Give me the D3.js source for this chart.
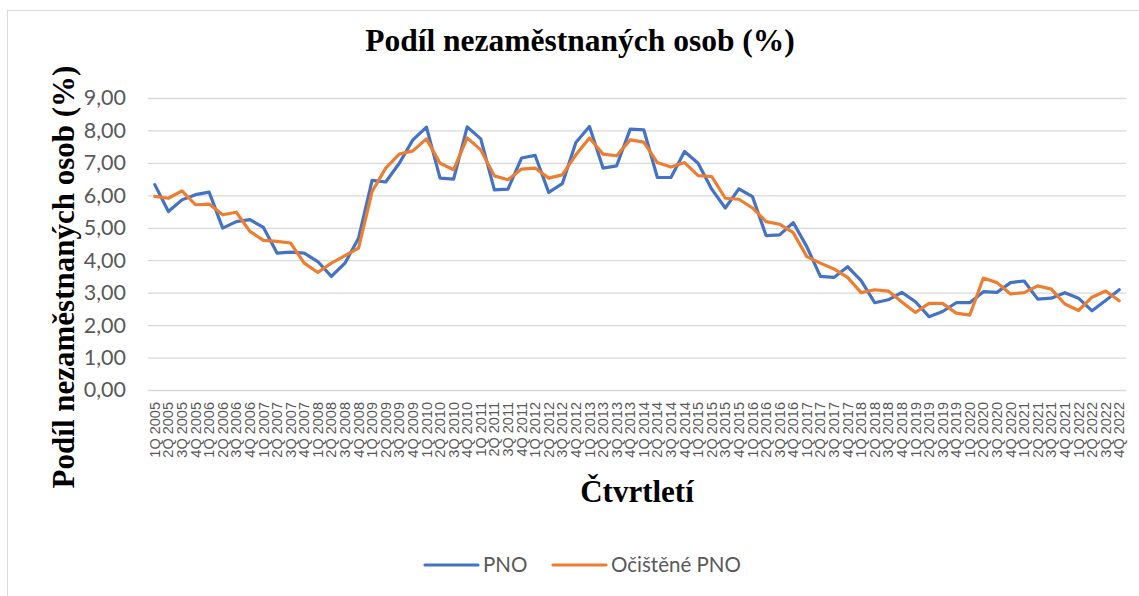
<!DOCTYPE html>
<html>
<head>
<meta charset="utf-8">
<script src="https://cdn.jsdelivr.net/npm/d3@7"></script>
<style>
  body { margin: 0; background: #fff; }
</style>
</head>
<body>
<div id="my_dataviz"></div>
<script>

// quarters 1Q 2005 .. 4Q 2022
var years = [2005, 2006, 2007, 2008, 2009, 2010, 2011, 2012, 2013, 2014, 2015, 2016, 2017, 2018, 2019, 2020, 2021, 2022]
var quarterNames = ["1Q", "2Q", "3Q", "4Q"]
var quarters = []
years.forEach(function(y) { quarterNames.forEach(function(q) { quarters.push(q + " " + y) }) })

var pno = [6.33, 5.50, 5.86, 6.02, 6.10, 4.99, 5.19, 5.25, 5.01, 4.22, 4.25, 4.22,
  3.96, 3.50, 3.91, 4.68, 6.46, 6.41, 6.99, 7.71, 8.10, 6.53, 6.50, 8.11,
  7.74, 6.17, 6.19, 7.15, 7.23, 6.09, 6.36, 7.63, 8.12, 6.84, 6.91, 8.04,
  8.02, 6.55, 6.55, 7.35, 6.99, 6.19, 5.61, 6.20, 5.96, 4.76, 4.78, 5.16,
  4.42, 3.50, 3.47, 3.80, 3.37, 2.69, 2.78, 3.01, 2.72, 2.26, 2.42, 2.69,
  2.69, 3.03, 3.01, 3.31, 3.36, 2.80, 2.83, 3.00, 2.83, 2.44, 2.76, 3.09]

var pnoOcistene = [5.97, 5.91, 6.14, 5.71, 5.73, 5.40, 5.48, 4.89, 4.61, 4.58, 4.53, 3.91,
  3.62, 3.91, 4.14, 4.37, 6.12, 6.84, 7.27, 7.37, 7.74, 6.99, 6.79, 7.77,
  7.40, 6.60, 6.48, 6.81, 6.84, 6.53, 6.63, 7.25, 7.77, 7.27, 7.22, 7.71,
  7.64, 7.01, 6.87, 7.01, 6.61, 6.58, 5.91, 5.88, 5.61, 5.19, 5.11, 4.85,
  4.11, 3.91, 3.73, 3.47, 3.00, 3.09, 3.05, 2.71, 2.39, 2.67, 2.67, 2.37,
  2.31, 3.45, 3.31, 2.96, 3.00, 3.21, 3.11, 2.65, 2.45, 2.86, 3.05, 2.75]

var yTicks = [0, 1, 2, 3, 4, 5, 6, 7, 8, 9]

var seriesNames = ["PNO", "Očištěné PNO"]
var colors = ["#4472C4", "#ED7D31"]

var W = 1139, H = 596
var plot = {left: 148, right: 1126, top: 98, bottom: 390}

var svg = d3.select("#my_dataviz")
  .append("svg")
  .attr("width", W)
  .attr("height", H)

// chart area border
svg.append("rect")
  .attr("x", 7.5).attr("y", 10.5)
  .attr("width", W + 10).attr("height", H + 10)
  .attr("fill", "#fff")
  .attr("stroke", "#d9d9d9")

var x = d3.scaleBand()
  .domain(quarters)
  .range([plot.left, plot.right])

var y = d3.scaleLinear()
  .domain([0, 9])
  .range([plot.bottom, plot.top])

var fmt = function(d) { return d3.format(".2f")(d).replace(".", ",") }

// gridlines + y labels
var yAxis = svg.append("g")
  .attr("transform", "translate(" + plot.left + ",0)")
  .call(d3.axisLeft(y).tickValues(yTicks).tickFormat(fmt).tickSize(-(plot.right - plot.left)).tickPadding(22))
yAxis.select(".domain").remove()
yAxis.selectAll(".tick line").attr("stroke", "#d9d9d9").attr("stroke-width", 1.3)
yAxis.selectAll(".tick text")
  .attr("fill", "#595959")
  .style("font-family", "Lato, 'Open Sans', sans-serif")
  .style("font-size", "21.5px")

// x labels, rotated
var xAxis = svg.append("g")
  .attr("transform", "translate(0," + plot.bottom + ")")
  .call(d3.axisBottom(x).tickSize(0).tickPadding(0))
xAxis.select(".domain").remove()
xAxis.selectAll(".tick text")
  .attr("fill", "#595959")
  .style("font-family", "'Liberation Sans', Arial, sans-serif")
  .style("font-size", "14.5px")
  .attr("text-anchor", "end")
  .attr("dy", "0.35em")
  .attr("transform", "translate(0,12) rotate(-90)")
  .attr("y", 0)
  .attr("x", 0)

// lines
var line = d3.line()
  .x(function(d, i) { return x(quarters[i]) + x.bandwidth() / 2 })
  .y(function(d) { return y(d) })

svg.selectAll(".series")
  .data([pno, pnoOcistene])
  .enter().append("path")
  .attr("class", "series")
  .attr("d", line)
  .attr("fill", "none")
  .attr("stroke", function(d, i) { return colors[i] })
  .attr("stroke-width", 3.2)
  .attr("stroke-linejoin", "round")
  .attr("stroke-linecap", "round")

// titles
svg.append("text")
  .attr("x", 580).attr("y", 51)
  .attr("text-anchor", "middle")
  .style("font-family", "'Liberation Serif', 'Times New Roman', serif")
  .style("font-weight", "bold")
  .style("font-size", "31.5px")
  .text("Podíl nezaměstnaných osob (%)")

svg.append("text")
  .attr("transform", "translate(74,277) rotate(-90)")
  .attr("text-anchor", "middle")
  .style("font-family", "'Liberation Serif', 'Times New Roman', serif")
  .style("font-weight", "bold")
  .style("font-size", "31px")
  .text("Podíl nezaměstnaných osob (%)")

svg.append("text")
  .attr("x", (plot.left + plot.right) / 2).attr("y", 502)
  .attr("text-anchor", "middle")
  .style("font-family", "'Liberation Serif', 'Times New Roman', serif")
  .style("font-weight", "bold")
  .style("font-size", "31px")
  .text("Čtvrtletí")

// legend
var legendX = [425, 553]
var legend = svg.selectAll(".legend")
  .data(seriesNames)
  .enter().append("g")
  .attr("class", "legend")
  .attr("transform", function(d, i) { return "translate(" + legendX[i] + ",565)" })

legend.append("line")
  .attr("x1", 0).attr("x2", 53)
  .attr("stroke", function(d, i) { return colors[i] })
  .attr("stroke-width", 3.2)
  .attr("stroke-linecap", "round")

legend.append("text")
  .attr("x", 58)
  .attr("dy", "0.35em")
  .attr("fill", "#595959")
  .style("font-family", "Lato, 'Open Sans', sans-serif")
  .style("font-size", "20.5px")
  .text(function(d) { return d })

</script>
</body>
</html>
